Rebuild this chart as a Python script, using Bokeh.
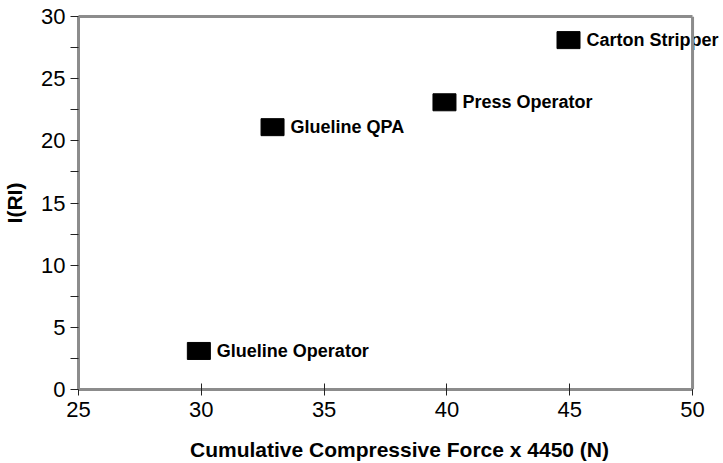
from bokeh.plotting import figure
from bokeh.models import Range1d, FixedTicker, ColumnDataSource, LabelSet, Span, LinearAxis
from bokeh.core.properties import value
from bokeh.embed import file_html
from bokeh.resources import INLINE

jobs = ["Glueline Operator", "Glueline QPA", "Press Operator", "Carton Stripper"]
force = [29.9, 32.9, 39.9, 44.95]
iri = [3.1, 21.1, 23.1, 28.1]

x_ticks = [25, 30, 35, 40, 45, 50]
y_ticks = [0, 5, 10, 15, 20, 25, 30]
y_minor = [2.5, 7.5, 12.5, 17.5, 22.5, 27.5]

FONT = "Liberation Sans"
FRAME = "#8c8c8c"

X_MIN, X_MAX = 25, 50
Y_MIN, Y_MAX = 0, 30

# plot-area geometry (pixels) -- the canvas extends to the right beyond the
# drawn frame so that the "Carton Stripper" label is not clipped
W, H = 720, 463
LEFT, FRAME_RIGHT, TOP, BOTTOM = 77, 692, 16, 73
px_per_unit = (FRAME_RIGHT - LEFT) / (X_MAX - X_MIN)
x_view_end = X_MAX + (W - FRAME_RIGHT) / px_per_unit

x_range = Range1d(X_MIN, x_view_end)
y_range = Range1d(Y_MIN, Y_MAX)

p = figure(width=W, height=H, output_backend="svg", toolbar_location=None,
           x_range=x_range, y_range=y_range,
           min_border_left=LEFT, min_border_right=0, min_border_top=TOP, min_border_bottom=BOTTOM)
p.background_fill_color = "white"
p.border_fill_color = "white"
p.grid.visible = False
p.outline_line_color = None

src = ColumnDataSource(dict(x=force, y=iri, label=jobs))
p.rect(x="x", y="y", width=23, height=17, width_units="screen", height_units="screen",
       source=src, fill_color="black", line_color="black")
labels = LabelSet(x="x", y="y", text="label", source=src, x_offset=18, y_offset=0,
                  text_font=value(FONT), text_font_style="bold", text_font_size="18px",
                  text_baseline="middle", text_align="left", text_color="black")
p.add_layout(labels)

# right edge of the frame, drawn on top of the label text as in the reference
p.add_layout(Span(location=X_MAX, dimension="height", line_color=FRAME, line_width=3, level="overlay"))

xa = p.xaxis[0]
xa.ticker = FixedTicker(ticks=x_ticks)
xa.bounds = (X_MIN, X_MAX)
xa.axis_label = "Cumulative Compressive Force x 4450 (N)"
xa.major_tick_in = 6
xa.major_tick_out = 6
xa.minor_tick_in = 0
xa.minor_tick_out = 0

top_axis = LinearAxis(bounds=(X_MIN, X_MAX), ticker=FixedTicker(ticks=[]),
                      major_label_text_font_size="0px", major_tick_line_color=None,
                      minor_tick_line_color=None, axis_line_color=FRAME, axis_line_width=3)
p.add_layout(top_axis, "above")

ya = p.yaxis[0]
ya.ticker = FixedTicker(ticks=y_ticks, minor_ticks=y_minor)
ya.axis_label = "I(RI)"
ya.major_tick_in = 0
ya.major_tick_out = 8
ya.minor_tick_in = 0
ya.minor_tick_out = 8

for ax in (xa, ya):
    ax.axis_line_color = FRAME
    ax.axis_line_width = 3
    ax.major_tick_line_color = "#222222"
    ax.minor_tick_line_color = "#222222"
    ax.major_label_text_font = FONT
    ax.major_label_text_font_size = "22px"
    ax.major_label_text_color = "black"
    ax.major_label_text_line_height = 1.0
    ax.axis_label_text_font = FONT
    ax.axis_label_text_font_size = "21px"
    ax.axis_label_text_font_style = "bold"
    ax.axis_label_text_color = "black"
    ax.axis_label_text_line_height = 1.0

xa.major_label_standoff = 6
xa.axis_label_standoff = 18
ya.major_label_standoff = 5
ya.axis_label_standoff = 12

open("out.html", "w").write(file_html(p, INLINE))
